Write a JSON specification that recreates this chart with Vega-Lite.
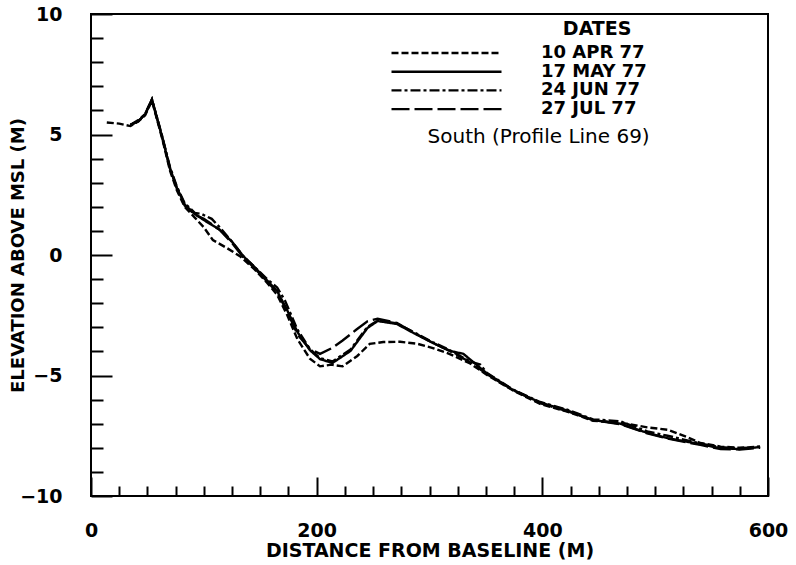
{
  "$schema": "https://vega.github.io/schema/vega-lite/v6.json",
  "width": 677,
  "height": 482,
  "autosize": "none",
  "padding": {"left": 91, "top": 14, "right": 28, "bottom": 69},
  "background": "white",
  "config": {
    "view": {"stroke": "black", "strokeWidth": 2},
    "axis": {
      "domain": false,
      "grid": false,
      "tickColor": "black",
      "tickWidth": 2,
      "labelColor": "black",
      "labelFont": "DejaVu Sans",
      "labelFontWeight": "bold",
      "labelFontSize": 19,
      "labelOverlap": false,
      "labelFlush": false,
      "labelBound": false,
      "titleColor": "black",
      "titleFont": "DejaVu Sans",
      "titleFontWeight": "bold",
      "titleFontSize": 19
    }
  },
  "datasets": {
    "profiles": [
      {"date": "10 APR 77", "distance": 14, "elevation": 5.5},
      {"date": "10 APR 77", "distance": 25, "elevation": 5.45},
      {"date": "10 APR 77", "distance": 35, "elevation": 5.35},
      {"date": "10 APR 77", "distance": 42, "elevation": 5.55},
      {"date": "10 APR 77", "distance": 48, "elevation": 5.8},
      {"date": "10 APR 77", "distance": 54, "elevation": 6.4},
      {"date": "10 APR 77", "distance": 63, "elevation": 4.85},
      {"date": "10 APR 77", "distance": 70, "elevation": 3.5},
      {"date": "10 APR 77", "distance": 76, "elevation": 2.7},
      {"date": "10 APR 77", "distance": 83, "elevation": 2.0},
      {"date": "10 APR 77", "distance": 92, "elevation": 1.55},
      {"date": "10 APR 77", "distance": 100, "elevation": 1.15},
      {"date": "10 APR 77", "distance": 108, "elevation": 0.62},
      {"date": "10 APR 77", "distance": 120, "elevation": 0.3},
      {"date": "10 APR 77", "distance": 132, "elevation": -0.05},
      {"date": "10 APR 77", "distance": 145, "elevation": -0.6},
      {"date": "10 APR 77", "distance": 156, "elevation": -1.15},
      {"date": "10 APR 77", "distance": 165, "elevation": -1.65},
      {"date": "10 APR 77", "distance": 174, "elevation": -2.5},
      {"date": "10 APR 77", "distance": 183, "elevation": -3.5},
      {"date": "10 APR 77", "distance": 194, "elevation": -4.3},
      {"date": "10 APR 77", "distance": 203, "elevation": -4.62},
      {"date": "10 APR 77", "distance": 213, "elevation": -4.55},
      {"date": "10 APR 77", "distance": 223, "elevation": -4.62},
      {"date": "10 APR 77", "distance": 236, "elevation": -4.19},
      {"date": "10 APR 77", "distance": 247, "elevation": -3.69},
      {"date": "10 APR 77", "distance": 259, "elevation": -3.61},
      {"date": "10 APR 77", "distance": 274, "elevation": -3.6},
      {"date": "10 APR 77", "distance": 289, "elevation": -3.68},
      {"date": "10 APR 77", "distance": 303, "elevation": -3.86},
      {"date": "10 APR 77", "distance": 318, "elevation": -4.11},
      {"date": "10 APR 77", "distance": 336, "elevation": -4.5},
      {"date": "10 APR 77", "distance": 351, "elevation": -4.98},
      {"date": "10 APR 77", "distance": 374, "elevation": -5.62},
      {"date": "10 APR 77", "distance": 398, "elevation": -6.18},
      {"date": "10 APR 77", "distance": 422, "elevation": -6.5},
      {"date": "10 APR 77", "distance": 445, "elevation": -6.88},
      {"date": "10 APR 77", "distance": 469, "elevation": -6.95},
      {"date": "10 APR 77", "distance": 493, "elevation": -7.15},
      {"date": "10 APR 77", "distance": 511, "elevation": -7.25},
      {"date": "10 APR 77", "distance": 528, "elevation": -7.55},
      {"date": "10 APR 77", "distance": 540, "elevation": -7.8},
      {"date": "10 APR 77", "distance": 558, "elevation": -7.95},
      {"date": "10 APR 77", "distance": 575, "elevation": -8.0},
      {"date": "10 APR 77", "distance": 593, "elevation": -7.95},

      {"date": "17 MAY 77", "distance": 35, "elevation": 5.4},
      {"date": "17 MAY 77", "distance": 42, "elevation": 5.55},
      {"date": "17 MAY 77", "distance": 48, "elevation": 5.85},
      {"date": "17 MAY 77", "distance": 54, "elevation": 6.45},
      {"date": "17 MAY 77", "distance": 63, "elevation": 4.9},
      {"date": "17 MAY 77", "distance": 70, "elevation": 3.6},
      {"date": "17 MAY 77", "distance": 76, "elevation": 2.8},
      {"date": "17 MAY 77", "distance": 83, "elevation": 2.1},
      {"date": "17 MAY 77", "distance": 92, "elevation": 1.7},
      {"date": "17 MAY 77", "distance": 100, "elevation": 1.45},
      {"date": "17 MAY 77", "distance": 114, "elevation": 1.05},
      {"date": "17 MAY 77", "distance": 125, "elevation": 0.55},
      {"date": "17 MAY 77", "distance": 135, "elevation": -0.05},
      {"date": "17 MAY 77", "distance": 145, "elevation": -0.5},
      {"date": "17 MAY 77", "distance": 156, "elevation": -1.05},
      {"date": "17 MAY 77", "distance": 165, "elevation": -1.5},
      {"date": "17 MAY 77", "distance": 174, "elevation": -2.3},
      {"date": "17 MAY 77", "distance": 183, "elevation": -3.2},
      {"date": "17 MAY 77", "distance": 194, "elevation": -3.95},
      {"date": "17 MAY 77", "distance": 203, "elevation": -4.32},
      {"date": "17 MAY 77", "distance": 214, "elevation": -4.48},
      {"date": "17 MAY 77", "distance": 230, "elevation": -3.98},
      {"date": "17 MAY 77", "distance": 245, "elevation": -3.03},
      {"date": "17 MAY 77", "distance": 254, "elevation": -2.74},
      {"date": "17 MAY 77", "distance": 271, "elevation": -2.86},
      {"date": "17 MAY 77", "distance": 286, "elevation": -3.24},
      {"date": "17 MAY 77", "distance": 303, "elevation": -3.65},
      {"date": "17 MAY 77", "distance": 318, "elevation": -3.98},
      {"date": "17 MAY 77", "distance": 330, "elevation": -4.1},
      {"date": "17 MAY 77", "distance": 351, "elevation": -4.92},
      {"date": "17 MAY 77", "distance": 374, "elevation": -5.6},
      {"date": "17 MAY 77", "distance": 398, "elevation": -6.12},
      {"date": "17 MAY 77", "distance": 422, "elevation": -6.45},
      {"date": "17 MAY 77", "distance": 445, "elevation": -6.85},
      {"date": "17 MAY 77", "distance": 469, "elevation": -7.0},
      {"date": "17 MAY 77", "distance": 493, "elevation": -7.38},
      {"date": "17 MAY 77", "distance": 511, "elevation": -7.6},
      {"date": "17 MAY 77", "distance": 540, "elevation": -7.85},
      {"date": "17 MAY 77", "distance": 558, "elevation": -8.02},
      {"date": "17 MAY 77", "distance": 575, "elevation": -8.05},
      {"date": "17 MAY 77", "distance": 593, "elevation": -7.97},

      {"date": "24 JUN 77", "distance": 35, "elevation": 5.4},
      {"date": "24 JUN 77", "distance": 42, "elevation": 5.6},
      {"date": "24 JUN 77", "distance": 48, "elevation": 5.85},
      {"date": "24 JUN 77", "distance": 54, "elevation": 6.45},
      {"date": "24 JUN 77", "distance": 63, "elevation": 4.95},
      {"date": "24 JUN 77", "distance": 70, "elevation": 3.65},
      {"date": "24 JUN 77", "distance": 76, "elevation": 2.85},
      {"date": "24 JUN 77", "distance": 83, "elevation": 2.15},
      {"date": "24 JUN 77", "distance": 92, "elevation": 1.75},
      {"date": "24 JUN 77", "distance": 98, "elevation": 1.7},
      {"date": "24 JUN 77", "distance": 107, "elevation": 1.5},
      {"date": "24 JUN 77", "distance": 114, "elevation": 1.15},
      {"date": "24 JUN 77", "distance": 125, "elevation": 0.55},
      {"date": "24 JUN 77", "distance": 135, "elevation": -0.05},
      {"date": "24 JUN 77", "distance": 145, "elevation": -0.5},
      {"date": "24 JUN 77", "distance": 156, "elevation": -1.0},
      {"date": "24 JUN 77", "distance": 165, "elevation": -1.35},
      {"date": "24 JUN 77", "distance": 172, "elevation": -1.9},
      {"date": "24 JUN 77", "distance": 183, "elevation": -3.1},
      {"date": "24 JUN 77", "distance": 194, "elevation": -3.9},
      {"date": "24 JUN 77", "distance": 203, "elevation": -4.28},
      {"date": "24 JUN 77", "distance": 214, "elevation": -4.42},
      {"date": "24 JUN 77", "distance": 230, "elevation": -3.92},
      {"date": "24 JUN 77", "distance": 245, "elevation": -2.98},
      {"date": "24 JUN 77", "distance": 254, "elevation": -2.72},
      {"date": "24 JUN 77", "distance": 271, "elevation": -2.84},
      {"date": "24 JUN 77", "distance": 286, "elevation": -3.2},
      {"date": "24 JUN 77", "distance": 303, "elevation": -3.62},
      {"date": "24 JUN 77", "distance": 318, "elevation": -3.95},
      {"date": "24 JUN 77", "distance": 336, "elevation": -4.42},
      {"date": "24 JUN 77", "distance": 345, "elevation": -4.55},
      {"date": "24 JUN 77", "distance": 351, "elevation": -4.9},
      {"date": "24 JUN 77", "distance": 374, "elevation": -5.58},
      {"date": "24 JUN 77", "distance": 398, "elevation": -6.1},
      {"date": "24 JUN 77", "distance": 422, "elevation": -6.42},
      {"date": "24 JUN 77", "distance": 445, "elevation": -6.82},
      {"date": "24 JUN 77", "distance": 469, "elevation": -6.9},
      {"date": "24 JUN 77", "distance": 493, "elevation": -7.32},
      {"date": "24 JUN 77", "distance": 511, "elevation": -7.5},
      {"date": "24 JUN 77", "distance": 540, "elevation": -7.82},
      {"date": "24 JUN 77", "distance": 558, "elevation": -7.98},
      {"date": "24 JUN 77", "distance": 575, "elevation": -8.02},
      {"date": "24 JUN 77", "distance": 593, "elevation": -7.95},

      {"date": "27 JUL 77", "distance": 35, "elevation": 5.4},
      {"date": "27 JUL 77", "distance": 42, "elevation": 5.55},
      {"date": "27 JUL 77", "distance": 48, "elevation": 5.85},
      {"date": "27 JUL 77", "distance": 54, "elevation": 6.45},
      {"date": "27 JUL 77", "distance": 63, "elevation": 4.92},
      {"date": "27 JUL 77", "distance": 70, "elevation": 3.58},
      {"date": "27 JUL 77", "distance": 76, "elevation": 2.78},
      {"date": "27 JUL 77", "distance": 83, "elevation": 2.05},
      {"date": "27 JUL 77", "distance": 92, "elevation": 1.68},
      {"date": "27 JUL 77", "distance": 100, "elevation": 1.5},
      {"date": "27 JUL 77", "distance": 114, "elevation": 1.05},
      {"date": "27 JUL 77", "distance": 125, "elevation": 0.5},
      {"date": "27 JUL 77", "distance": 135, "elevation": -0.1},
      {"date": "27 JUL 77", "distance": 145, "elevation": -0.55},
      {"date": "27 JUL 77", "distance": 156, "elevation": -1.1},
      {"date": "27 JUL 77", "distance": 165, "elevation": -1.55},
      {"date": "27 JUL 77", "distance": 174, "elevation": -2.35},
      {"date": "27 JUL 77", "distance": 183, "elevation": -3.3},
      {"date": "27 JUL 77", "distance": 194, "elevation": -3.9},
      {"date": "27 JUL 77", "distance": 203, "elevation": -4.1},
      {"date": "27 JUL 77", "distance": 214, "elevation": -3.85},
      {"date": "27 JUL 77", "distance": 223, "elevation": -3.55},
      {"date": "27 JUL 77", "distance": 235, "elevation": -3.1},
      {"date": "27 JUL 77", "distance": 245, "elevation": -2.75},
      {"date": "27 JUL 77", "distance": 254, "elevation": -2.64},
      {"date": "27 JUL 77", "distance": 271, "elevation": -2.82},
      {"date": "27 JUL 77", "distance": 286, "elevation": -3.22},
      {"date": "27 JUL 77", "distance": 303, "elevation": -3.65},
      {"date": "27 JUL 77", "distance": 318, "elevation": -3.98},
      {"date": "27 JUL 77", "distance": 336, "elevation": -4.45},
      {"date": "27 JUL 77", "distance": 351, "elevation": -4.95},
      {"date": "27 JUL 77", "distance": 374, "elevation": -5.6},
      {"date": "27 JUL 77", "distance": 398, "elevation": -6.15},
      {"date": "27 JUL 77", "distance": 422, "elevation": -6.48},
      {"date": "27 JUL 77", "distance": 445, "elevation": -6.85},
      {"date": "27 JUL 77", "distance": 469, "elevation": -7.02},
      {"date": "27 JUL 77", "distance": 493, "elevation": -7.4},
      {"date": "27 JUL 77", "distance": 511, "elevation": -7.62},
      {"date": "27 JUL 77", "distance": 540, "elevation": -7.88},
      {"date": "27 JUL 77", "distance": 558, "elevation": -8.05},
      {"date": "27 JUL 77", "distance": 575, "elevation": -8.07},
      {"date": "27 JUL 77", "distance": 593, "elevation": -8.0}
    ],
    "heading": [
      {"distance": 448.6, "elevation": 9.38, "text": "DATES"}
    ],
    "note": [
      {"distance": 396.7, "elevation": 4.9, "text": "South (Profile Line 69)"}
    ]
  },
  "encoding": {
    "x": {
      "field": "distance",
      "type": "quantitative",
      "scale": {"domain": [0, 600], "nice": false, "zero": false},
      "axis": {
        "title": "DISTANCE FROM BASELINE (M)",
        "values": [0, 25, 50, 75, 100, 125, 150, 175, 200, 225, 250, 275, 300, 325, 350, 375, 400, 425, 450, 475, 500, 525, 550, 575, 600],
        "tickSize": {"condition": {"test": "datum.value % 200 === 0", "value": -19}, "value": -10},
        "labelExpr": "datum.value % 200 === 0 ? datum.label : ''",
        "labelPadding": 44,
        "titleY": 60,
        "titleBaseline": "alphabetic"
      }
    },
    "y": {
      "field": "elevation",
      "type": "quantitative",
      "scale": {"domain": [-10, 10], "nice": false, "zero": false},
      "axis": {
        "title": "ELEVATION ABOVE MSL (M)",
        "values": [-10, -9, -8, -7, -6, -5, -4, -3, -2, -1, 0, 1, 2, 3, 4, 5, 6, 7, 8, 9, 10],
        "tickSize": {"condition": {"test": "datum.value % 5 === 0", "value": -21}, "value": -12},
        "labelExpr": "datum.value % 5 === 0 ? datum.label : ''",
        "labelPadding": 50,
        "titleFontSize": 18,
        "titleX": -68,
        "titleBaseline": "alphabetic"
      }
    }
  },
  "layer": [
    {
      "data": {"name": "profiles"},
      "mark": {"type": "line", "color": "black", "strokeWidth": 2.4},
      "encoding": {
        "strokeDash": {
          "field": "date",
          "type": "nominal",
          "scale": {
            "domain": ["10 APR 77", "17 MAY 77", "24 JUN 77", "27 JUL 77"],
            "range": [[7, 3], [1, 0], [10, 3, 3, 3], [18, 5]]
          },
          "legend": {
            "title": null,
            "orient": "none",
            "legendX": 299,
            "legendY": 31,
            "padding": 0,
            "symbolType": "stroke",
            "symbolSize": 12100,
            "symbolStrokeWidth": 2.4,
            "symbolStrokeColor": "black",
            "labelFont": "DejaVu Sans",
            "labelFontWeight": "bold",
            "labelFontSize": 18,
            "labelColor": "black",
            "labelOffset": 38,
            "clipHeight": 16,
            "rowPadding": 0.7
          }
        }
      }
    },
    {
      "data": {"name": "heading"},
      "mark": {"type": "text", "font": "DejaVu Sans", "fontWeight": "bold", "fontSize": 19, "color": "black", "align": "center", "baseline": "middle"},
      "encoding": {
        "text": {"field": "text"}
      }
    },
    {
      "data": {"name": "note"},
      "mark": {"type": "text", "font": "DejaVu Sans", "fontSize": 20, "color": "black", "align": "center", "baseline": "middle"},
      "encoding": {
        "text": {"field": "text"}
      }
    }
  ]
}
